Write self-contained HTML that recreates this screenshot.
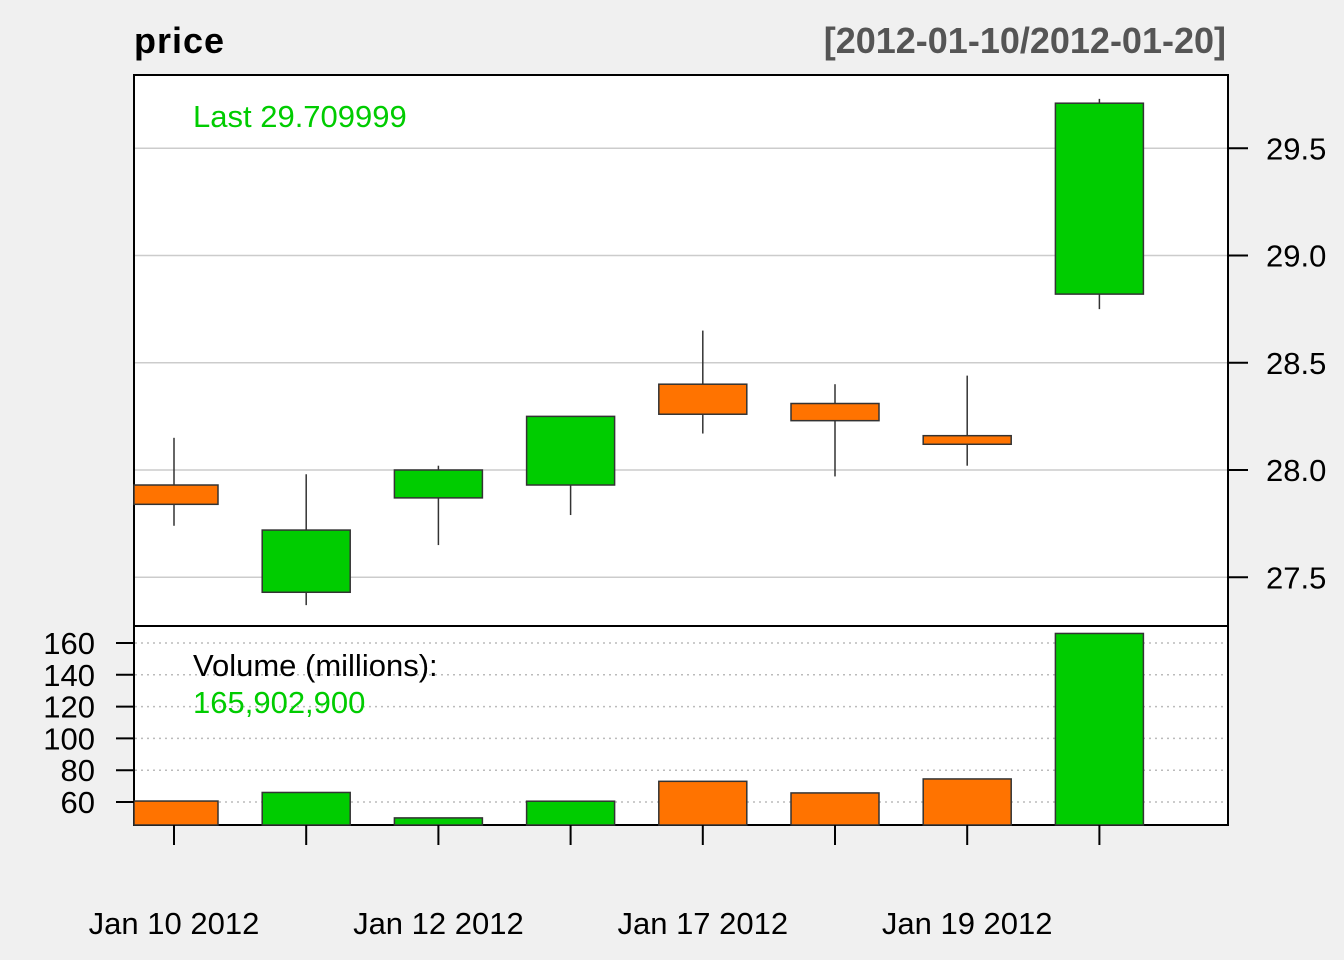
<!DOCTYPE html>
<html><head><meta charset="utf-8"><style>
body{margin:0;background:#f0f0f0;}
svg{display:block;font-family:"Liberation Sans",Arial,sans-serif;}
</style></head><body>
<svg id="chart" width="1344" height="960" xmlns="http://www.w3.org/2000/svg">
<rect width="1344" height="960" fill="#f0f0f0"/>
<text x="134" y="53" font-size="36" font-weight="bold" fill="#000" textLength="90">price</text>
<text x="1226" y="53" font-size="36" font-weight="bold" fill="#555" text-anchor="end">[2012-01-10/2012-01-20]</text>
<rect x="134" y="75" width="1094" height="551" fill="#fff" stroke="#000" stroke-width="2"/>
<rect x="134" y="626" width="1094" height="199" fill="#fff" stroke="#000" stroke-width="2"/>
<g id="pgrid"></g><g id="vgrid"></g><g id="marks"></g><g id="axes"></g>
<text x="193" y="127" font-size="31" fill="#00cc00">Last 29.709999</text>
<text x="193" y="676" font-size="31" fill="#000">Volume (millions):</text>
<text x="193" y="713" font-size="31" fill="#00cc00">165,902,900</text>
</svg>
<script>
const dates=["Jan 10 2012","Jan 11 2012","Jan 12 2012","Jan 13 2012","Jan 17 2012","Jan 18 2012","Jan 19 2012","Jan 20 2012"];
const opens=[27.93,27.43,27.87,27.93,28.40,28.31,28.16,28.82];
const closes=[27.84,27.72,28.00,28.25,28.26,28.23,28.12,29.71];
const highs=[28.15,27.98,28.02,28.25,28.65,28.40,28.44,29.73];
const lows=[27.74,27.37,27.65,27.79,28.17,27.97,28.02,28.75];
const volumes=[60.6,66,50,60.5,73,65.7,74.5,166];
const priceTicks=[27.5,28.0,28.5,29.0,29.5];
const volTicks=[60,80,100,120,140,160];
const xLabelIdx=[0,2,4,6];
const NS="http://www.w3.org/2000/svg";
const py=v=>470-(v-28)*214.5;
const vy=v=>802-(v-60)*1.59;
const xc=i=>174+i*132.2;
function mk(tag,attrs,parent,txt){const e=document.createElementNS(NS,tag);for(const k in attrs)e.setAttribute(k,attrs[k]);if(txt!==undefined)e.textContent=txt;document.getElementById(parent).appendChild(e);return e;}
priceTicks.forEach(t=>{
 let l=mk('line',{x1:135,x2:1227,y1:py(t),y2:py(t),stroke:'#cccccc','stroke-width':1.5},'pgrid');
 
 
 let k=mk('line',{x1:1228,x2:1248,y1:py(t),y2:py(t),stroke:'#000','stroke-width':2},'axes');
 
 
 let tx=mk('text',{x:1266,y:py(t)+11,'font-size':31,fill:'#000'},'axes',t.toFixed(1));
 
 
});
volTicks.forEach(t=>{
 let l=mk('line',{x1:135,x2:1227,y1:vy(t),y2:vy(t),stroke:'#bbbbbb','stroke-width':1.5,'stroke-dasharray':'2,4'},'vgrid');
 
 
 let k=mk('line',{x1:116,x2:134,y1:vy(t),y2:vy(t),stroke:'#000','stroke-width':2},'axes');
 
 
 let tx=mk('text',{x:95,y:vy(t)+11,'font-size':31,fill:'#000','text-anchor':'end'},'axes',String(t));
 
 
});
const hw=44;
dates.forEach((d,i)=>{
 const x=xc(i),up=closes[i]>=opens[i],col=up?'#00cc00':'#ff7300';
 const x0=Math.max(134,x-hw),x1=Math.min(1228,x+hw);
 let w=mk('line',{x1:x,x2:x,y1:py(highs[i]),y2:py(lows[i]),stroke:'#333','stroke-width':1.5},'marks');
 
 
 const top=py(Math.max(opens[i],closes[i])),bot=py(Math.min(opens[i],closes[i]));
 let b=mk('rect',{x:x0,y:top,width:x1-x0,height:Math.max(1,bot-top),fill:col,stroke:'#333','stroke-width':1.5},'marks');
 
 
 let v=mk('rect',{x:x0,y:vy(volumes[i]),width:x1-x0,height:825-vy(volumes[i]),fill:col,stroke:'#333','stroke-width':1.5},'marks');
 
 
 let k=mk('line',{x1:x,x2:x,y1:825,y2:845,stroke:'#000','stroke-width':2},'axes');
 
 
});
xLabelIdx.forEach(i=>{
 let tx=mk('text',{x:xc(i),y:934,'font-size':31,fill:'#000','text-anchor':'middle'},'axes',dates[i]);
 
 
});
</script>
</body></html>
